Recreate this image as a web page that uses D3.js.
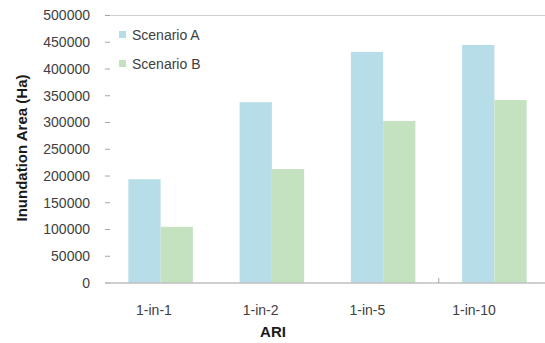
<!DOCTYPE html>
<html><head><meta charset="utf-8">
<script src="https://cdn.jsdelivr.net/npm/d3@7"></script>
<style>body{margin:0;background:#fff;} svg{display:block;}</style>
</head><body>
<svg id="c" width="545" height="343"></svg>
<script>
const categories = ["1-in-1", "1-in-2", "1-in-5", "1-in-10"];
const seriesNames = ["Scenario A", "Scenario B"];
const scenarioA = [194000, 338000, 432000, 445000];
const scenarioB = [105000, 213000, 303000, 342000];
const yTicks = [0, 50000, 100000, 150000, 200000, 250000, 300000, 350000, 400000, 450000, 500000];
const colors = ["#b7dde8", "#c4e2c0"];

(function () {
const svg = d3.select("#c");
const font = "'Liberation Sans', Arial, sans-serif";
const pLeft = 105, pRight = 550, pTop = 15.5, pBottom = 283;

const x = d3.scaleBand().domain(categories).range([pLeft, pRight]).paddingInner(0.42).paddingOuter(0.21);
const xLabel = d3.scaleBand().domain(categories).range([100.6, 527.4]);
const xs = d3.scaleBand().domain(seriesNames).range([0, x.bandwidth()]);
const y = d3.scaleLinear().domain([0, 500000]).range([pBottom, pTop]);

// top gridline
svg.append("line").attr("x1", pLeft).attr("x2", 545).attr("y1", y(500000)).attr("y2", y(500000))
  .attr("stroke", "#d0d0d0").attr("stroke-width", 1.2);

// y ticks and labels
const yg = svg.append("g");
yTicks.forEach(t => {
  yg.append("line").attr("x1", pLeft).attr("x2", pLeft + 5).attr("y1", y(t)).attr("y2", y(t))
    .attr("stroke", "#a6a6a6").attr("stroke-width", 1);
  yg.append("text").attr("x", 90).attr("y", y(t)).attr("dy", "0.35em").attr("text-anchor", "end")
    .attr("font-family", font).attr("font-size", 14).attr("fill", "#404040").text(t);
});

// bars
const data = categories.map((c, i) => ({c, vals: [scenarioA[i], scenarioB[i]]}));
const g = svg.append("g");
data.forEach(d => {
  d.vals.forEach((v, j) => {
    g.append("rect").attr("x", x(d.c) + xs(seriesNames[j])).attr("width", xs.bandwidth())
      .attr("y", y(v)).attr("height", y(0) - y(v)).attr("fill", colors[j]);
  });
});

// baseline
svg.append("line").attr("x1", pLeft).attr("x2", 545).attr("y1", pBottom).attr("y2", pBottom)
  .attr("stroke", "#bfbfbf").attr("stroke-width", 1.5);
// category divider tick
const divX = x("1-in-10") - x.step() * x.paddingInner() / 2;
svg.append("line").attr("x1", divX).attr("x2", divX)
  .attr("y1", pBottom).attr("y2", pBottom - 5).attr("stroke", "#a6a6a6").attr("stroke-width", 1);

// x labels
categories.forEach(c => {
  svg.append("text").attr("x", xLabel(c) + xLabel.bandwidth() / 2).attr("y", 310).attr("dy", "0.35em")
    .attr("text-anchor", "middle").attr("font-family", font).attr("font-size", 14).attr("fill", "#404040").text(c);
});

// axis titles
svg.append("text").attr("x", 273).attr("y", 332).attr("dy", "0.35em").attr("text-anchor", "middle")
  .attr("font-family", font).attr("font-size", 15).attr("font-weight", "bold").attr("fill", "#1a1a1a").text("ARI");
svg.append("text").attr("transform", "translate(22,148) rotate(-90)").attr("dy", "0.35em").attr("text-anchor", "middle")
  .attr("font-family", font).attr("font-size", 15).attr("font-weight", "bold").attr("fill", "#1a1a1a").text("Inundation Area (Ha)");

// legend
seriesNames.forEach((s, i) => {
  const ly = 35 + i * 29;
  svg.append("rect").attr("x", 119).attr("y", ly - 4).attr("width", 7).attr("height", 7).attr("fill", colors[i]);
  svg.append("text").attr("x", 132).attr("y", ly).attr("dy", "0.35em").attr("font-family", font)
    .attr("font-size", 14).attr("fill", "#404040").text(s);
});
})();
</script>
</body></html>
